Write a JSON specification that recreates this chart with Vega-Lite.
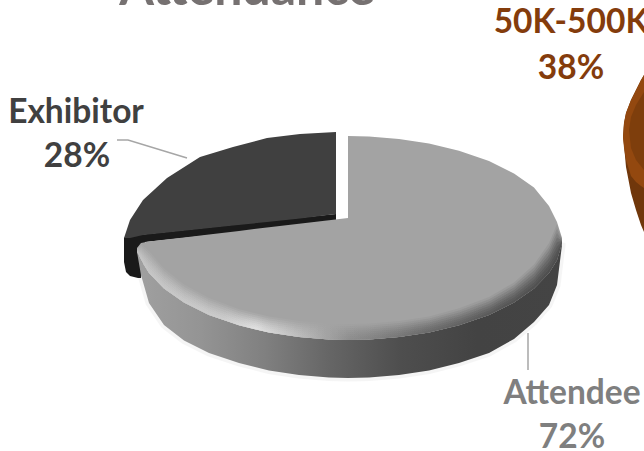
{
"$schema":"https://vega.github.io/schema/vega-lite/v6.json",
"width":644,"height":451,"padding":0,
"autosize":{"type":"none"},
"background":"white",
"view":{"stroke":null},
"datasets":{
"attendee":[
{"x":137,"top":248,"bottom":252,"sil":252,"b1":251.5,"b2":251,"b3":250.5,"b4":250,"b5":249.5,"b6":249,"b7":248.5,"b8":248},
{"x":141,"top":243,"bottom":260,"sil":275,"b1":258,"b2":256,"b3":254,"b4":252,"b5":250,"b6":248,"b7":246,"b8":244},
{"x":149,"top":241.5,"bottom":273.1,"sil":303,"b1":270.3,"b2":267.6,"b3":264.8,"b4":262.1,"b5":259.3,"b6":256.6,"b7":253.8,"b8":251.1},
{"x":164,"top":239.7,"bottom":288.5,"sil":325,"b1":286,"b2":283.5,"b3":281,"b4":278.5,"b5":276,"b6":273.5,"b7":271,"b8":268.5},
{"x":184,"top":237.4,"bottom":302.5,"sil":340.5,"b1":300.2,"b2":298,"b3":295.7,"b4":293.5,"b5":291.2,"b6":289,"b7":286.7,"b8":284.5},
{"x":209,"top":234.4,"bottom":314.9,"sil":353,"b1":312.8,"b2":310.6,"b3":308.5,"b4":306.4,"b5":304.3,"b6":302.1,"b7":300,"b8":297.9},
{"x":239,"top":230.9,"bottom":325.3,"sil":363,"b1":323.3,"b2":321.3,"b3":319.3,"b4":317.3,"b5":315.3,"b6":313.3,"b7":311.3,"b8":309.3},
{"x":269,"top":227.3,"bottom":332.5,"sil":370.5,"b1":330.5,"b2":328.5,"b3":326.5,"b4":324.5,"b5":322.5,"b6":320.5,"b7":318.5,"b8":316.5},
{"x":299,"top":223.8,"bottom":337.1,"sil":375,"b1":335.1,"b2":333.1,"b3":331.1,"b4":329.1,"b5":327.1,"b6":325.1,"b7":323.1,"b8":321.1},
{"x":329,"top":220.2,"bottom":339.6,"sil":377.6,"b1":337.6,"b2":335.6,"b3":333.6,"b4":331.6,"b5":329.6,"b6":327.6,"b7":325.6,"b8":323.6},
{"x":348,"top":218,"bottom":340,"sil":378,"b1":338,"b2":336,"b3":334,"b4":332,"b5":330,"b6":328,"b7":326,"b8":324},
{"x":348.01,"top":136,"bottom":340,"sil":378,"b1":338,"b2":336,"b3":334,"b4":332,"b5":330,"b6":328,"b7":326,"b8":324},
{"x":369,"top":136.4,"bottom":339.6,"sil":377.6,"b1":337.6,"b2":335.6,"b3":333.6,"b4":331.6,"b5":329.6,"b6":327.6,"b7":325.6,"b8":323.6},
{"x":399,"top":138.9,"bottom":337.1,"sil":375,"b1":335.1,"b2":333.1,"b3":331.1,"b4":329.1,"b5":327.1,"b6":325.1,"b7":323.1,"b8":321.1},
{"x":429,"top":143.5,"bottom":332.5,"sil":370.5,"b1":330.5,"b2":328.5,"b3":326.5,"b4":324.5,"b5":322.5,"b6":320.5,"b7":318.5,"b8":316.5},
{"x":459,"top":150.7,"bottom":325.3,"sil":363,"b1":323.2,"b2":321,"b3":318.9,"b4":316.8,"b5":314.7,"b6":312.5,"b7":310.4,"b8":308.3},
{"x":489,"top":161.1,"bottom":314.9,"sil":353,"b1":312.7,"b2":310.4,"b3":308.2,"b4":305.9,"b5":303.7,"b6":301.4,"b7":299.2,"b8":296.9},
{"x":514,"top":173.5,"bottom":302.5,"sil":339,"b1":300,"b2":297.5,"b3":295,"b4":292.5,"b5":290,"b6":287.5,"b7":285,"b8":282.5},
{"x":534,"top":187.5,"bottom":288.5,"sil":322,"b1":285.5,"b2":282.5,"b3":279.5,"b4":276.5,"b5":273.5,"b6":270.5,"b7":267.5,"b8":264.5},
{"x":549,"top":206,"bottom":273.1,"sil":305,"b1":269.4,"b2":265.6,"b3":261.9,"b4":258.1,"b5":254.4,"b6":250.6,"b7":246.9,"b8":243.1},
{"x":557,"top":222,"bottom":260,"sil":285,"b1":255.5,"b2":251,"b3":246.5,"b4":242,"b5":237.5,"b6":233,"b7":228.5,"b8":224},
{"x":562,"top":238,"bottom":243,"sil":245,"b1":243,"b2":242,"b3":241.5,"b4":241,"b5":240.5,"b6":240,"b7":239,"b8":238}
],
"exhibitorFace":[
{"x":124,"top":238,"bottom":238},
{"x":125,"top":235,"bottom":238},
{"x":130,"top":220,"bottom":238},
{"x":143,"top":200,"bottom":235},
{"x":167,"top":178,"bottom":232.5},
{"x":200,"top":157,"bottom":229},
{"x":233,"top":147,"bottom":225.5},
{"x":267,"top":138,"bottom":222},
{"x":300,"top":134,"bottom":218.5},
{"x":336,"top":132,"bottom":214}
],
"exhibitorEdge":[
{"x":124,"top":238,"bottom":262},
{"x":126,"top":236,"bottom":272},
{"x":130,"top":235,"bottom":276},
{"x":138,"top":235,"bottom":278},
{"x":141,"top":234.6,"bottom":278},
{"x":145,"top":234.2,"bottom":242},
{"x":240,"top":224,"bottom":232},
{"x":336,"top":214,"bottom":221}
],
"sliver":[
{"x":623,"top":137,"face":137,"sil":137},
{"x":624,"top":123,"face":148,"sil":145},
{"x":626,"top":113,"face":160,"sil":167},
{"x":631,"top":100,"face":176,"sil":193},
{"x":636,"top":90,"face":182,"sil":210},
{"x":641,"top":80,"face":186,"sil":225},
{"x":644,"top":75,"face":188,"sil":232}
],
"sliverInner":[
{"x":629,"top":130,"bottom":130},
{"x":631,"top":117,"bottom":148},
{"x":636,"top":105,"bottom":160},
{"x":644,"top":92,"bottom":170}
],
"leaders":[
{"who":"Exhibitor","x":117,"y":140},
{"who":"Exhibitor","x":128,"y":140},
{"who":"Exhibitor","x":187,"y":158},
{"who":"Attendee","x":528,"y":333},
{"who":"Attendee","x":528,"y":370}
],
"labels":[
{"group":"Exhibitor","text":"Exhibitor","x":76,"y":123},
{"group":"Exhibitor","text":"28%","x":77,"y":167},
{"group":"Attendee","text":"Attendee","x":572,"y":404},
{"group":"Attendee","text":"72%","x":572,"y":448},
{"group":"50K-500K","text":"50K-500K","x":571,"y":33},
{"group":"50K-500K","text":"38%","x":571,"y":79}
],
"title":[{"text":"Attendance","x":247,"y":5}]
},
"encoding":{"x":{"field":"x","type":"quantitative","scale":{"domain":[0,644],"nice":false,"zero":false},"axis":null}},
"layer":[
{"data":{"name":"attendee"},"mark":{"type":"area","fillOpacity":0,"stroke":"#ececec","strokeWidth":7,"strokeOpacity":0.5},
 "encoding":{"y":{"field":"bottom","type":"quantitative","scale":{"domain":[0,451],"reverse":true,"nice":false,"zero":false},"axis":null},"y2":{"field":"sil"}}},
{"data":{"name":"exhibitorEdge"},"mark":{"type":"area","fill":"#1a1a1a"},
 "encoding":{"y":{"field":"top","type":"quantitative","scale":{"domain":[0,451],"reverse":true,"nice":false,"zero":false},"axis":null},"y2":{"field":"bottom"}}},
{"data":{"name":"exhibitorFace"},"mark":{"type":"area","fill":"#404040"},
 "encoding":{"y":{"field":"top","type":"quantitative","scale":{"domain":[0,451],"reverse":true,"nice":false,"zero":false},"axis":null},"y2":{"field":"bottom"}}},
{"data":{"name":"attendee"},"mark":{"type":"area","fill":{"gradient":"linear","x1":0,"y1":0,"x2":1,"y2":0,"stops":[{"offset":0,"color":"#a0a0a0"},{"offset":0.15,"color":"#949494"},{"offset":0.3,"color":"#808080"},{"offset":0.45,"color":"#666666"},{"offset":0.62,"color":"#4e4e4e"},{"offset":0.8,"color":"#434343"},{"offset":1,"color":"#444444"}]}},
 "encoding":{"y":{"field":"bottom","type":"quantitative","scale":{"domain":[0,451],"reverse":true,"nice":false,"zero":false},"axis":null},"y2":{"field":"sil"}}},
{"data":{"name":"attendee"},"mark":{"type":"area","fill":"#a3a3a3"},
 "encoding":{"y":{"field":"top","type":"quantitative","scale":{"domain":[0,451],"reverse":true,"nice":false,"zero":false},"axis":null},"y2":{"field":"bottom"}}},
{"data":{"name":"attendee"},"mark":{"type":"area","opacity":0.1,"fill":{"gradient":"linear","x1":0,"y1":0,"x2":1,"y2":0,"stops":[{"offset":0,"color":"#c8c8c8"},{"offset":0.2,"color":"#cfcfcf"},{"offset":0.28,"color":"#e6e6e6"},{"offset":0.4,"color":"#b8b8b8"},{"offset":0.5,"color":"#8c8c8c"},{"offset":0.68,"color":"#666666"},{"offset":0.85,"color":"#505050"},{"offset":1,"color":"#444444"}]}},
 "encoding":{"y":{"field":"bottom","type":"quantitative","scale":{"domain":[0,451],"reverse":true,"nice":false,"zero":false},"axis":null},"y2":{"field":"b8"}}},
{"data":{"name":"attendee"},"mark":{"type":"area","opacity":0.15,"fill":{"gradient":"linear","x1":0,"y1":0,"x2":1,"y2":0,"stops":[{"offset":0,"color":"#c8c8c8"},{"offset":0.2,"color":"#cfcfcf"},{"offset":0.28,"color":"#e6e6e6"},{"offset":0.4,"color":"#b8b8b8"},{"offset":0.5,"color":"#8c8c8c"},{"offset":0.68,"color":"#666666"},{"offset":0.85,"color":"#505050"},{"offset":1,"color":"#444444"}]}},
 "encoding":{"y":{"field":"bottom","type":"quantitative","scale":{"domain":[0,451],"reverse":true,"nice":false,"zero":false},"axis":null},"y2":{"field":"b7"}}},
{"data":{"name":"attendee"},"mark":{"type":"area","opacity":0.18,"fill":{"gradient":"linear","x1":0,"y1":0,"x2":1,"y2":0,"stops":[{"offset":0,"color":"#c8c8c8"},{"offset":0.2,"color":"#cfcfcf"},{"offset":0.28,"color":"#e6e6e6"},{"offset":0.4,"color":"#b8b8b8"},{"offset":0.5,"color":"#8c8c8c"},{"offset":0.68,"color":"#666666"},{"offset":0.85,"color":"#505050"},{"offset":1,"color":"#444444"}]}},
 "encoding":{"y":{"field":"bottom","type":"quantitative","scale":{"domain":[0,451],"reverse":true,"nice":false,"zero":false},"axis":null},"y2":{"field":"b6"}}},
{"data":{"name":"attendee"},"mark":{"type":"area","opacity":0.22,"fill":{"gradient":"linear","x1":0,"y1":0,"x2":1,"y2":0,"stops":[{"offset":0,"color":"#c8c8c8"},{"offset":0.2,"color":"#cfcfcf"},{"offset":0.28,"color":"#e6e6e6"},{"offset":0.4,"color":"#b8b8b8"},{"offset":0.5,"color":"#8c8c8c"},{"offset":0.68,"color":"#666666"},{"offset":0.85,"color":"#505050"},{"offset":1,"color":"#444444"}]}},
 "encoding":{"y":{"field":"bottom","type":"quantitative","scale":{"domain":[0,451],"reverse":true,"nice":false,"zero":false},"axis":null},"y2":{"field":"b5"}}},
{"data":{"name":"attendee"},"mark":{"type":"area","opacity":0.26,"fill":{"gradient":"linear","x1":0,"y1":0,"x2":1,"y2":0,"stops":[{"offset":0,"color":"#c8c8c8"},{"offset":0.2,"color":"#cfcfcf"},{"offset":0.28,"color":"#e6e6e6"},{"offset":0.4,"color":"#b8b8b8"},{"offset":0.5,"color":"#8c8c8c"},{"offset":0.68,"color":"#666666"},{"offset":0.85,"color":"#505050"},{"offset":1,"color":"#444444"}]}},
 "encoding":{"y":{"field":"bottom","type":"quantitative","scale":{"domain":[0,451],"reverse":true,"nice":false,"zero":false},"axis":null},"y2":{"field":"b4"}}},
{"data":{"name":"attendee"},"mark":{"type":"area","opacity":0.3,"fill":{"gradient":"linear","x1":0,"y1":0,"x2":1,"y2":0,"stops":[{"offset":0,"color":"#c8c8c8"},{"offset":0.2,"color":"#cfcfcf"},{"offset":0.28,"color":"#e6e6e6"},{"offset":0.4,"color":"#b8b8b8"},{"offset":0.5,"color":"#8c8c8c"},{"offset":0.68,"color":"#666666"},{"offset":0.85,"color":"#505050"},{"offset":1,"color":"#444444"}]}},
 "encoding":{"y":{"field":"bottom","type":"quantitative","scale":{"domain":[0,451],"reverse":true,"nice":false,"zero":false},"axis":null},"y2":{"field":"b3"}}},
{"data":{"name":"attendee"},"mark":{"type":"area","opacity":0.35,"fill":{"gradient":"linear","x1":0,"y1":0,"x2":1,"y2":0,"stops":[{"offset":0,"color":"#c8c8c8"},{"offset":0.2,"color":"#cfcfcf"},{"offset":0.28,"color":"#e6e6e6"},{"offset":0.4,"color":"#b8b8b8"},{"offset":0.5,"color":"#8c8c8c"},{"offset":0.68,"color":"#666666"},{"offset":0.85,"color":"#505050"},{"offset":1,"color":"#444444"}]}},
 "encoding":{"y":{"field":"bottom","type":"quantitative","scale":{"domain":[0,451],"reverse":true,"nice":false,"zero":false},"axis":null},"y2":{"field":"b2"}}},
{"data":{"name":"attendee"},"mark":{"type":"area","opacity":0.4,"fill":{"gradient":"linear","x1":0,"y1":0,"x2":1,"y2":0,"stops":[{"offset":0,"color":"#c8c8c8"},{"offset":0.2,"color":"#cfcfcf"},{"offset":0.28,"color":"#e6e6e6"},{"offset":0.4,"color":"#b8b8b8"},{"offset":0.5,"color":"#8c8c8c"},{"offset":0.68,"color":"#666666"},{"offset":0.85,"color":"#505050"},{"offset":1,"color":"#444444"}]}},
 "encoding":{"y":{"field":"bottom","type":"quantitative","scale":{"domain":[0,451],"reverse":true,"nice":false,"zero":false},"axis":null},"y2":{"field":"b1"}}},
{"data":{"name":"sliver"},"mark":{"type":"area","fill":"#70370b"},
 "encoding":{"y":{"field":"top","type":"quantitative","scale":{"domain":[0,451],"reverse":true,"nice":false,"zero":false},"axis":null},"y2":{"field":"sil"}}},
{"data":{"name":"sliver"},"mark":{"type":"area","fill":"#93480f"},
 "encoding":{"y":{"field":"top","type":"quantitative","scale":{"domain":[0,451],"reverse":true,"nice":false,"zero":false},"axis":null},"y2":{"field":"face"}}},
{"data":{"name":"sliverInner"},"mark":{"type":"area","fill":"#7e3e0c"},
 "encoding":{"y":{"field":"top","type":"quantitative","scale":{"domain":[0,451],"reverse":true,"nice":false,"zero":false},"axis":null},"y2":{"field":"bottom"}}},
{"data":{"name":"leaders"},"mark":{"type":"line","color":"#a6a6a6","strokeWidth":1.5},
 "encoding":{"detail":{"field":"who"},"order":{"field":"y"},"y":{"field":"y","type":"quantitative","scale":{"domain":[0,451],"reverse":true,"nice":false,"zero":false},"axis":null}}},
{"data":{"name":"labels"},"mark":{"type":"text","font":"Lato","fontWeight":"bold","fontSize":33.5,"align":"center","baseline":"alphabetic"},
 "encoding":{"text":{"field":"text"},"y":{"field":"y","type":"quantitative","scale":{"domain":[0,451],"reverse":true,"nice":false,"zero":false},"axis":null},
  "color":{"field":"group","type":"nominal","legend":null,"scale":{"domain":["Exhibitor","Attendee","50K-500K"],"range":["#404040","#7f7f7f","#843c0c"]}}}},
{"data":{"name":"title"},"mark":{"type":"text","font":"Lato","fontWeight":"bold","fontSize":50,"align":"center","baseline":"alphabetic","color":"#767171"},
 "encoding":{"text":{"field":"text"},"y":{"field":"y","type":"quantitative","scale":{"domain":[0,451],"reverse":true,"nice":false,"zero":false},"axis":null}}}
]
}
